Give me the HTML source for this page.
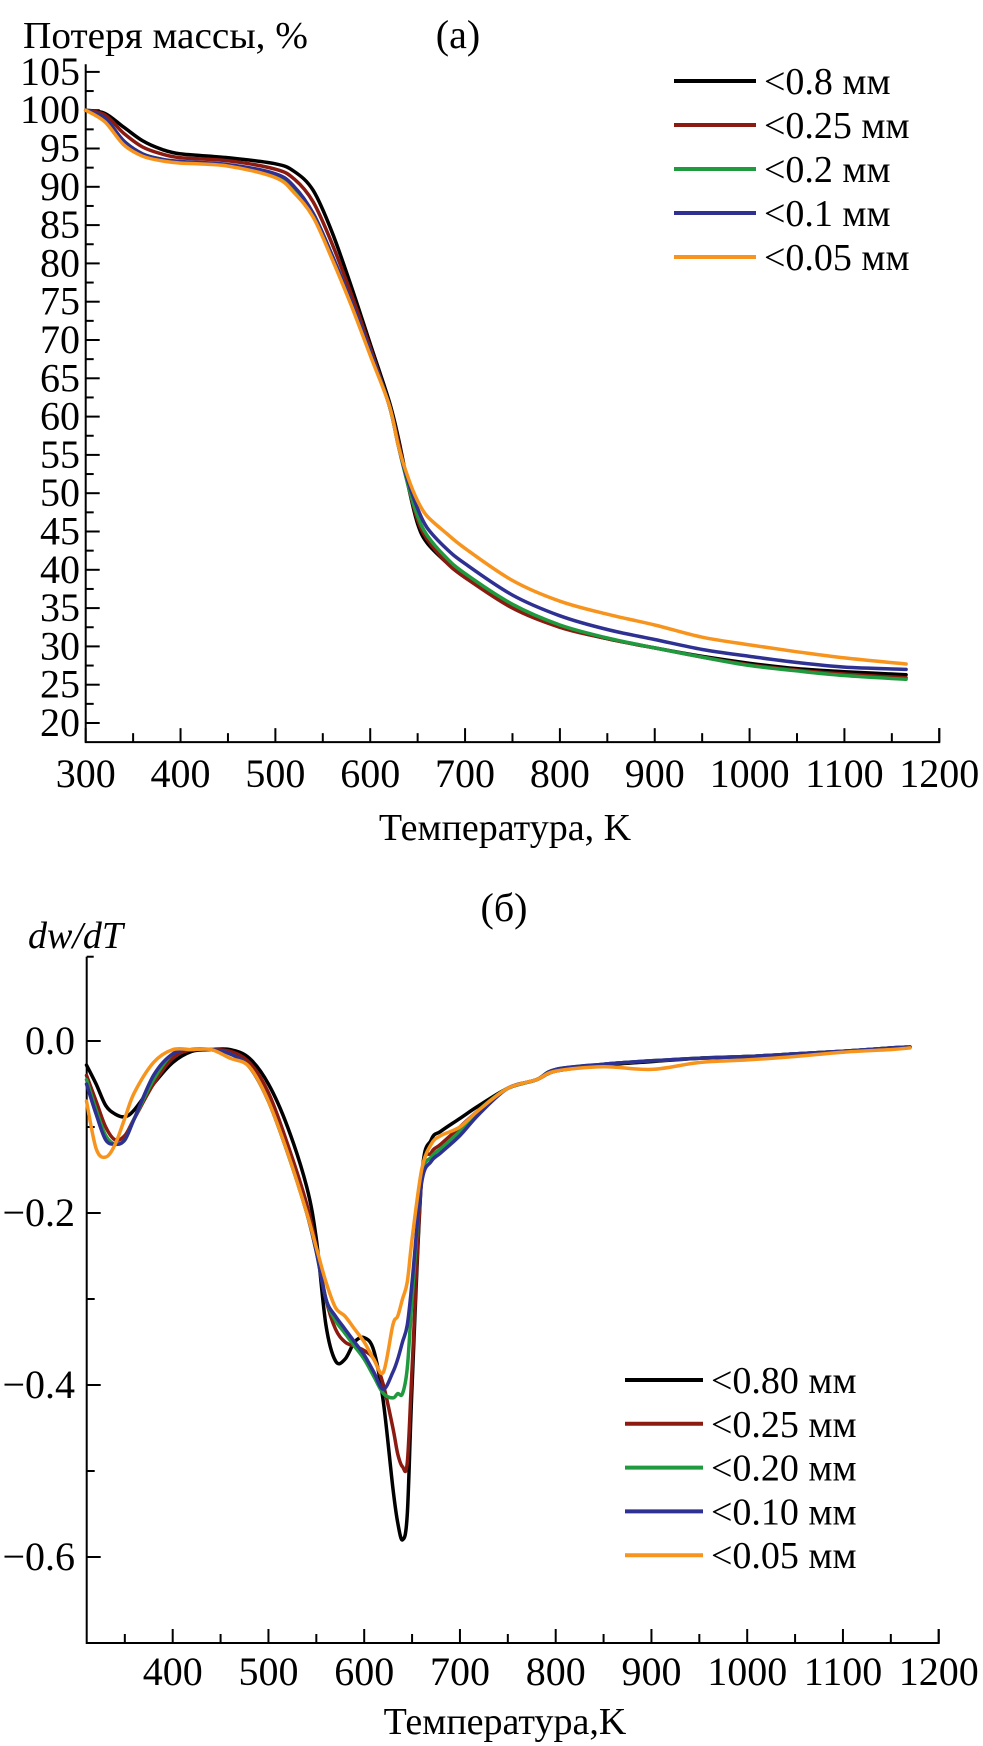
<!DOCTYPE html>
<html><head><meta charset="utf-8">
<style>
html,body{margin:0;padding:0;background:#fff;}
svg{display:block;}
svg text{font-family:"Liberation Serif","DejaVu Serif","Noto Serif CJK SC",serif;}
</style></head>
<body>
<svg id="fig" width="983" height="1746" viewBox="0 0 983 1746" xmlns="http://www.w3.org/2000/svg" font-family="'Liberation Serif', 'DejaVu Serif', serif">
<g id="chartA"></g>
<g id="chartB"></g>
</svg>
<script>
// ---------- Chart (a) data ----------
const tempsA = [300,320,340,360,380,400,450,500,520,540,560,580,600,620,630,640,650,660,680,700,750,800,850,900,950,1000,1050,1100,1165];
const massBlack = [100,99.6,97.8,96,94.9,94.3,93.8,93,92,89.5,84,77,69.5,62,57,51,46,43.5,41,39,35.2,32.6,31,29.8,28.7,27.8,27.1,26.7,26.3];
const massRed = [100,99.4,97,95.2,94.3,93.8,93.4,92.3,91,88,82.5,76,69,61.5,56.5,51,46.5,44,41,39,35,32.5,31,29.8,28.6,27.6,26.9,26.4,25.9];
const massGreen = [100,99,96,94.3,93.6,93.2,92.8,91.6,89.8,86.5,81,75,68.5,61.5,56,51,47,44.5,41.6,39.5,35.5,32.8,31.1,29.8,28.6,27.5,26.8,26.2,25.7];
const massBlue = [100,99,96,94.3,93.6,93.3,92.9,91.7,90,86.5,81,75,68.5,61.5,56,51.5,48,45.5,42.8,40.8,36.7,34,32.2,30.9,29.6,28.7,27.9,27.3,27];
const massOrange = [100,98.5,95.5,94,93.4,93.1,92.7,91.2,89.2,86,80.5,74.5,68,61.5,56,52,49,47,44.8,42.8,38.6,35.9,34.2,32.8,31.2,30.2,29.3,28.5,27.7];
const xTicksA = [300,400,500,600,700,800,900,1000,1100,1200];
const yTicksA = [20,25,30,35,40,45,50,55,60,65,70,75,80,85,90,95,100,105];
const legendA = ["<0.8 мм","<0.25 мм","<0.2 мм","<0.1 мм","<0.05 мм"];

// ---------- Chart (b) data ----------
const tempsB = [310,320,330,340,350,360,380,400,420,440,460,480,500,520,540,550,560,570,580,590,600,610,620,630,635,640,645,650,660,670,680,700,720,750,780,800,850,900,950,1000,1050,1100,1150,1170];
const dBlack = [-0.028,-0.05,-0.075,-0.085,-0.088,-0.08,-0.05,-0.025,-0.012,-0.01,-0.01,-0.02,-0.05,-0.1,-0.17,-0.23,-0.33,-0.372,-0.37,-0.35,-0.345,-0.36,-0.42,-0.52,-0.56,-0.58,-0.55,-0.4,-0.16,-0.115,-0.105,-0.09,-0.075,-0.055,-0.045,-0.035,-0.028,-0.024,-0.02,-0.018,-0.015,-0.012,-0.008,-0.007];
const dRed = [-0.04,-0.07,-0.1,-0.115,-0.11,-0.09,-0.05,-0.02,-0.01,-0.01,-0.012,-0.025,-0.06,-0.12,-0.19,-0.24,-0.3,-0.335,-0.35,-0.355,-0.36,-0.37,-0.4,-0.45,-0.48,-0.495,-0.49,-0.38,-0.16,-0.13,-0.12,-0.1,-0.08,-0.055,-0.045,-0.035,-0.027,-0.023,-0.02,-0.018,-0.015,-0.012,-0.008,-0.007];
const dGreen = [-0.045,-0.08,-0.11,-0.12,-0.115,-0.09,-0.045,-0.015,-0.01,-0.01,-0.015,-0.03,-0.07,-0.13,-0.2,-0.245,-0.3,-0.325,-0.34,-0.355,-0.37,-0.39,-0.41,-0.415,-0.41,-0.41,-0.38,-0.3,-0.16,-0.135,-0.125,-0.105,-0.08,-0.055,-0.045,-0.033,-0.027,-0.023,-0.02,-0.018,-0.015,-0.012,-0.008,-0.007];
const dBlue = [-0.05,-0.085,-0.115,-0.12,-0.115,-0.09,-0.04,-0.015,-0.01,-0.01,-0.015,-0.03,-0.07,-0.13,-0.2,-0.245,-0.3,-0.32,-0.335,-0.35,-0.365,-0.385,-0.405,-0.385,-0.37,-0.35,-0.33,-0.28,-0.165,-0.14,-0.13,-0.11,-0.085,-0.055,-0.045,-0.033,-0.027,-0.023,-0.02,-0.018,-0.015,-0.012,-0.008,-0.007];
const dOrange = [-0.07,-0.125,-0.135,-0.12,-0.09,-0.06,-0.025,-0.01,-0.01,-0.01,-0.02,-0.03,-0.07,-0.13,-0.2,-0.24,-0.28,-0.31,-0.32,-0.335,-0.35,-0.37,-0.385,-0.33,-0.32,-0.3,-0.28,-0.23,-0.15,-0.12,-0.11,-0.1,-0.08,-0.055,-0.045,-0.035,-0.03,-0.033,-0.025,-0.022,-0.018,-0.013,-0.01,-0.008];
const xTicksB = [400,500,600,700,800,900,1000,1100,1200];
const yTicksB = [0.0,-0.2,-0.4,-0.6];
const yTickLabelsB = ["0.0","\u22120.2","\u22120.4","\u22120.6"];
const legendB = ["<0.80 мм","<0.25 мм","<0.20 мм","<0.10 мм","<0.05 мм"];

const colors = ["#000000","#8b1a10","#1f9a3e","#2e3192","#f7941d"];
const NS = "http://www.w3.org/2000/svg";
const SERIF = "'Liberation Serif', 'DejaVu Serif', serif";
function mk(parent, tag, attrs){ const e=document.createElementNS(NS,tag); for(const k in attrs) e.setAttribute(k,attrs[k]); if(tag==='text') e.setAttribute('font-family',SERIF); parent.appendChild(e); return e; }
function path(pts){
  // smooth Catmull-Rom through the data points
  let d="M"+pts[0][0].toFixed(1)+" "+pts[0][1].toFixed(1);
  for(let i=0;i<pts.length-1;i++){
    const p0=pts[Math.max(0,i-1)],p1=pts[i],p2=pts[i+1],p3=pts[Math.min(pts.length-1,i+2)];
    const c1=[p1[0]+(p2[0]-p0[0])/6,p1[1]+(p2[1]-p0[1])/6];
    const c2=[p2[0]-(p3[0]-p1[0])/6,p2[1]-(p3[1]-p1[1])/6];
    d+=" C"+c1[0].toFixed(1)+" "+c1[1].toFixed(1)+" "+c2[0].toFixed(1)+" "+c2[1].toFixed(1)+" "+p2[0].toFixed(1)+" "+p2[1].toFixed(1);
  }
  return d;
}

// ---------- Chart A ----------
(function(){
  const g=document.getElementById('chartA');
  const xA=t=>85.7+(t-300)*0.9484;
  const yA=v=>723-(v-20)*7.66;
  const L=xA(300), R=xA(1200), B=yA(17.5), T=yA(106);
  const ax=mk(g,'path',{d:`M${L} ${T} L${L} ${B} L${R} ${B} L${R} ${B-14}`,fill:'none',stroke:'#000','stroke-width':2});
   
  for(let t=350;t<1200;t+=100){ const e=mk(g,'line',{x1:xA(t),x2:xA(t),y1:B,y2:B-9,stroke:'#000','stroke-width':2});
      }
  xTicksA.forEach(t=>{ const e=mk(g,'line',{x1:xA(t),x2:xA(t),y1:B,y2:B-14,stroke:'#000','stroke-width':2});
     
    const s=mk(g,'text',{x:xA(t),y:787,'font-size':40,'text-anchor':'middle'}); s.textContent=t;
      });
  for(let v=22.5;v<106;v+=5){ const e=mk(g,'line',{x1:L,x2:L+8,y1:yA(v),y2:yA(v),stroke:'#000','stroke-width':2});
      }
  yTicksA.forEach(v=>{ const e=mk(g,'line',{x1:L,x2:L+14,y1:yA(v),y2:yA(v),stroke:'#000','stroke-width':2});
     
    const s=mk(g,'text',{x:80,y:yA(v)+13,'font-size':40,'text-anchor':'end'}); s.textContent=v;
      });
  const yt=mk(g,'text',{x:23,y:48,'font-size':38,textLength:285,lengthAdjust:'spacingAndGlyphs'}); yt.textContent="Потеря массы, %";
   
  const pl=mk(g,'text',{x:458,y:48,'font-size':40,'text-anchor':'middle'}); pl.textContent="(a)";
   
  const xt=mk(g,'text',{x:505,y:840,'font-size':38,'text-anchor':'middle'}); xt.textContent="Температура, K";
   
  const series=[massBlack,massRed,massGreen,massBlue,massOrange];
  series.forEach((s,i)=>{ const p=mk(g,'path',{d:path(tempsA.map((t,j)=>[xA(t),yA(s[j])])),fill:'none',stroke:colors[i],'stroke-width':3.5,'stroke-linejoin':'round','stroke-linecap':'round'});
      });
  legendA.forEach((lab,i)=>{ const y=81+i*44;
    const l=mk(g,'line',{x1:674,x2:756,y1:y,y2:y,stroke:colors[i],'stroke-width':4});
     
    const s=mk(g,'text',{x:764,y:y+13,'font-size':38}); s.textContent=lab;
      });
})();

// ---------- Chart B ----------
(function(){
  const g=document.getElementById('chartB');
  const xB=t=>172.7+(t-400)*0.9575;
  const yB=v=>1041-860*v;
  const L=86.7, R=xB(1200), B=yB(-0.7), T=yB(0.098);
  const ax=mk(g,'path',{d:`M${L} ${T} L${L} ${B} L${R} ${B} L${R} ${B-14}`,fill:'none',stroke:'#000','stroke-width':2});
   
  const tt=mk(g,'line',{x1:L,x2:L+7,y1:T,y2:T,stroke:'#000','stroke-width':2});
   
  for(let t=350;t<1200;t+=100){ const e=mk(g,'line',{x1:xB(t),x2:xB(t),y1:B,y2:B-9,stroke:'#000','stroke-width':2});
      }
  xTicksB.forEach(t=>{ const e=mk(g,'line',{x1:xB(t),x2:xB(t),y1:B,y2:B-14,stroke:'#000','stroke-width':2});
     
    const s=mk(g,'text',{x:xB(t),y:1685,'font-size':40,'text-anchor':'middle'}); s.textContent=t;
      });
  [-0.1,-0.3,-0.5].forEach(v=>{ const e=mk(g,'line',{x1:L,x2:L+8,y1:yB(v),y2:yB(v),stroke:'#000','stroke-width':2});
      });
  yTicksB.forEach((v,i)=>{ const e=mk(g,'line',{x1:L,x2:L+14,y1:yB(v),y2:yB(v),stroke:'#000','stroke-width':2});
     
    const s=mk(g,'text',{x:75,y:yB(v)+13,'font-size':40,'text-anchor':'end'}); s.textContent=yTickLabelsB[i];
      });
  const yt=mk(g,'text',{x:28,y:948,'font-size':38,'font-style':'italic'}); yt.textContent="dw/dT";
   
  const pl=mk(g,'text',{x:504,y:921,'font-size':40,'text-anchor':'middle'}); pl.textContent="(б)";
   
  const xt=mk(g,'text',{x:505,y:1734,'font-size':38,'text-anchor':'middle'}); xt.textContent="Температура,K";
   
  const series=[dBlack,dRed,dGreen,dBlue,dOrange];
  series.forEach((s,i)=>{ const p=mk(g,'path',{d:path(tempsB.map((t,j)=>[xB(t),yB(s[j])])),fill:'none',stroke:colors[i],'stroke-width':3.5,'stroke-linejoin':'round','stroke-linecap':'round'});
      });
  legendB.forEach((lab,i)=>{ const y=1380+i*43.8;
    const l=mk(g,'line',{x1:625,x2:703,y1:y,y2:y,stroke:colors[i],'stroke-width':4});
     
    const s=mk(g,'text',{x:711,y:y+13,'font-size':38}); s.textContent=lab;
      });
})();
</script>
</body></html>
